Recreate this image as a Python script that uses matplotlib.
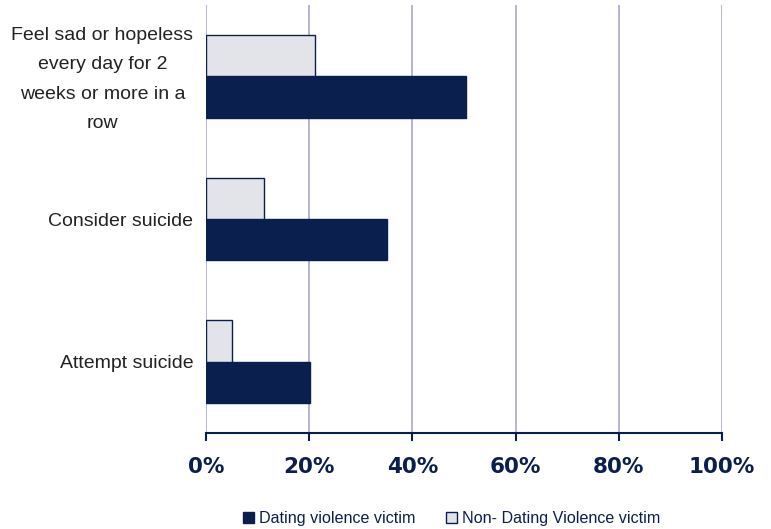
import numpy as np
import matplotlib.pyplot as plt
import matplotlib.transforms as mtransforms
from matplotlib.ticker import FuncFormatter

categories = ["Attempt suicide", "Consider suicide",
              "Feel sad or hopeless\nevery day for 2\nweeks or more in a\nrow"]
dating = [20.2, 35.1, 50.4]
non_dating = [5.0, 11.2, 21.1]
xticks = [0, 20, 40, 60, 80, 100]

navy = "#0b1f4f"
light = "#e3e4e9"

fig = plt.figure(figsize=(7.71, 5.29), dpi=100)
ax = fig.add_axes([0.267, 0.1815, 0.6695, 0.809])

y = np.arange(len(categories))
h = 0.29
ax.barh(y - h / 2, dating, height=h, color=navy, edgecolor=navy, linewidth=1,
        label="Dating violence victim", zorder=3)
ax.barh(y + h / 2, non_dating, height=h, color=light, edgecolor=navy, linewidth=1,
        label="Non- Dating Violence victim", zorder=3)

ax.set_xlim(0, 100)
ax.set_ylim(-0.5, 2.5)
ax.set_xticks(xticks)
ax.xaxis.set_major_formatter(FuncFormatter(lambda v, p: f"{v:.0f}%"))
ax.grid(axis="x", color="#a9a9c8", linewidth=1.2, zorder=0)
ax.set_yticks(y)
ax.set_yticklabels(categories, fontsize=14, color="#222222",
                   family="Liberation Sans", multialignment="center",
                   linespacing=1.94)
ax.tick_params(axis="y", length=0, pad=9)
ax.tick_params(axis="x", direction="out", length=6, width=1.5, color=navy,
               pad=11, labelsize=15.5, labelcolor=navy)
for lbl in ax.get_xticklabels():
    lbl.set_fontweight("bold")
# nudge the long label up a little
long_lbl = ax.get_yticklabels()[2]
long_lbl.set_transform(long_lbl.get_transform() +
                       mtransforms.ScaledTranslation(0, 5 / 100, fig.dpi_scale_trans))
for s in ["top", "right", "left"]:
    ax.spines[s].set_visible(False)
ax.spines["bottom"].set_color(navy)
ax.spines["bottom"].set_linewidth(1.5)

leg = fig.legend(loc="lower center", bbox_to_anchor=(0.586, -0.022), ncol=2,
                 frameon=False, prop={"family": "Liberation Sans", "size": 11.6},
                 handlelength=0.7, handleheight=0.7, columnspacing=1.9,
                 handletextpad=0.3)
for t in leg.get_texts():
    t.set_color(navy)

fig.savefig("out.png", dpi=100)
